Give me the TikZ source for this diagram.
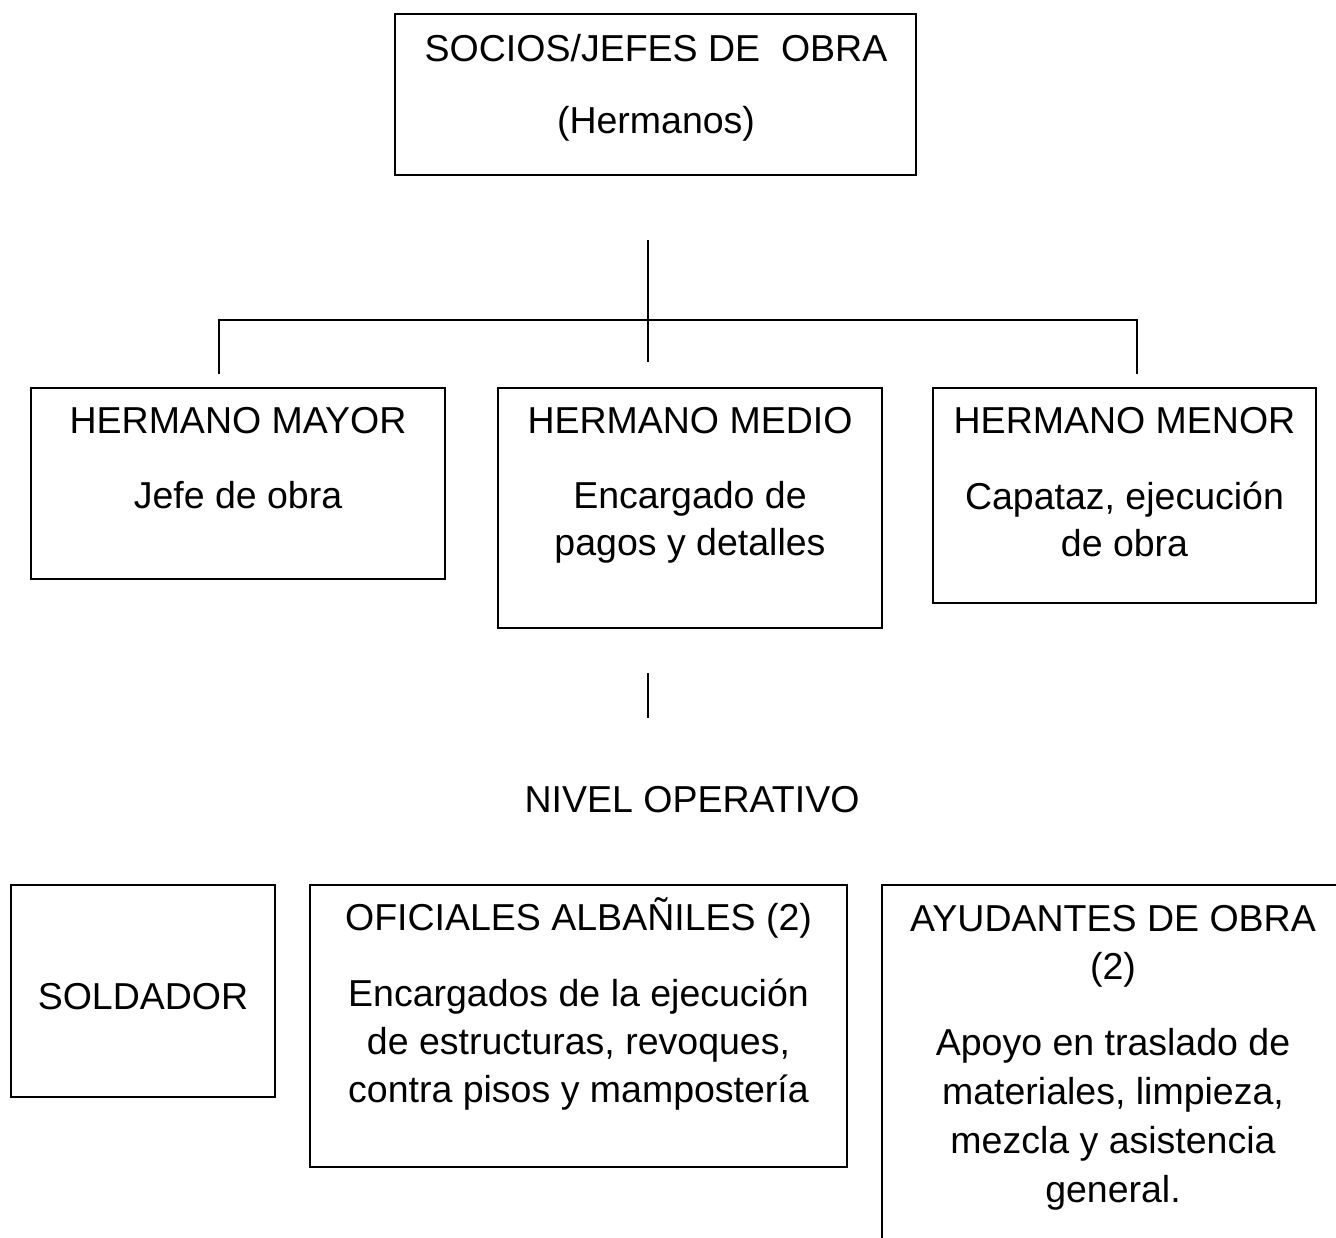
\documentclass[tikz,border=0pt]{standalone}
\usepackage{fontspec}
\setmainfont{Liberation Sans}
\begin{document}
\begin{tikzpicture}[x=1pt,y=-1pt,
  boxn/.style={draw=black, line width=1.5pt, rectangle, inner sep=0pt, outer sep=0pt, anchor=north west},
  txt/.style={inner sep=0pt, outer sep=0pt, anchor=base, font=\fontsize{37.5}{44}\selectfont},
  conn/.style={draw=black, line width=1.5pt}]
\useasboundingbox[fill=white] (0,0) rectangle (1336,1237);
% boxes
\node[boxn, minimum width=521pt, minimum height=161pt] (socios) at (395,14) {};
\node[boxn, minimum width=414pt, minimum height=191pt] (mayor) at (31,388) {};
\node[boxn, minimum width=384pt, minimum height=240pt] (medio) at (498,388) {};
\node[boxn, minimum width=383pt, minimum height=215pt] (menor) at (933,388) {};
\node[boxn, minimum width=264pt, minimum height=212pt] (soldador) at (11,885) {};
\node[boxn, minimum width=537pt, minimum height=282pt] (oficiales) at (310,885) {};
% open box (cut by the page edge)
\coordinate (ayA) at (882,1240);
\coordinate (ayB) at (882,885);
\coordinate (ayC) at (1340,885);
\draw[conn] (ayA) -- (ayB) -- (ayC);
% connectors
\coordinate (c1) at (648,240);
\coordinate (c2) at (648,362);
\coordinate (hL) at (219,320);
\coordinate (hR) at (1137,320);
\coordinate (dL) at (219,374);
\coordinate (dR) at (1137,374);
\coordinate (l1) at (648,673);
\coordinate (l2) at (648,718);
\draw[conn] (c1) -- (c2);
\draw[conn] (dL) -- (hL) -- (hR) -- (dR);
\draw[conn] (l1) -- (l2);
% texts
\node[txt] (t1) at (656,61) {SOCIOS/JEFES DE\ \ OBRA};
\node[txt] (t2) at (656,133) {(Hermanos)};
\node[txt] (m1) at (238,433) {HERMANO MAYOR};
\node[txt] (m2) at (238,508) {Jefe de obra};
\node[txt] (d1) at (690,433) {HERMANO MEDIO};
\node[txt] (d2) at (690,508) {Encargado de};
\node[txt] (d3) at (690,555) {pagos y detalles};
\node[txt] (n1) at (1124.5,433) {HERMANO MENOR};
\node[txt] (n2) at (1124.5,509) {Capataz, ejecución};
\node[txt] (n3) at (1124.5,556) {de obra};
\node[txt] (nivel) at (692,812) {NIVEL OPERATIVO};
\node[txt] (s1) at (143,1009) {SOLDADOR};
\node[txt] (o1) at (578.5,930) {OFICIALES ALBAÑILES (2)};
\node[txt] (o2) at (578.5,1006) {Encargados de la ejecución};
\node[txt] (o3) at (578.5,1054) {de estructuras, revoques,};
\node[txt] (o4) at (578.5,1102) {contra pisos y mampostería};
\node[txt] (a1) at (1113,931) {AYUDANTES DE OBRA};
\node[txt] (a2) at (1113,979) {(2)};
\node[txt] (a3) at (1113,1055) {Apoyo en traslado de};
\node[txt] (a4) at (1113,1104) {materiales, limpieza,};
\node[txt] (a5) at (1113,1153) {mezcla y asistencia};
\node[txt] (a6) at (1113,1202) {general.};
\end{tikzpicture}
\end{document}
